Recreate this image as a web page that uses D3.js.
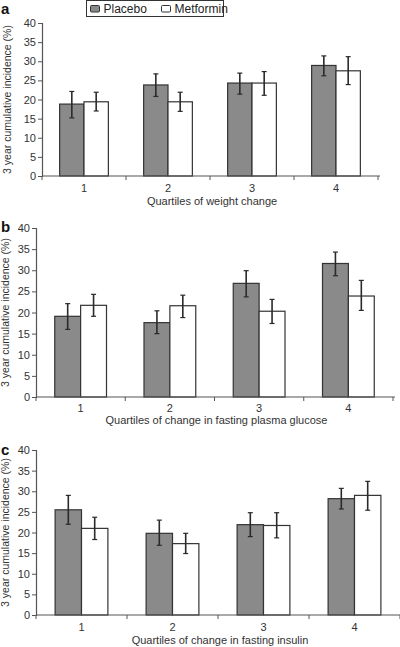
<!DOCTYPE html>
<html>
<head>
<meta charset="utf-8">
<script src="https://cdn.jsdelivr.net/npm/d3@7/dist/d3.min.js"></script>
<style>
  html, body { margin: 0; padding: 0; background: #fff; }
  svg { display: block; font-family: "Liberation Sans", Arial, sans-serif; }
</style>
</head>
<body>
<svg id="chart" width="400" height="647"></svg>
<script>
// ---- data ----
const quartiles = ["1", "2", "3", "4"];
const seriesNames = ["Placebo", "Metformin"];
const yTicks = [0, 5, 10, 15, 20, 25, 30, 35, 40];
const panelLabels = ["a", "b", "c"];
const xTitles = [
  "Quartiles of weight change",
  "Quartiles of change in fasting plasma glucose",
  "Quartiles of change in fasting insulin"
];
const yTitle = "3 year cumulative incidence (%)";

// panel a: weight change
const placeboA = [18.8, 23.8, 24.3, 28.9];
const placeboA_lo = [15.2, 20.8, 21.4, 26.2];
const placeboA_hi = [22.1, 26.7, 26.9, 31.4];
const metforminA = [19.4, 19.4, 24.3, 27.5];
const metforminA_lo = [17.0, 16.9, 21.1, 23.9];
const metforminA_hi = [21.9, 21.9, 27.3, 31.2];

// panel b: fasting plasma glucose
const placeboB = [19.1, 17.6, 26.9, 31.6];
const placeboB_lo = [16.0, 15.0, 23.7, 28.7];
const placeboB_hi = [22.1, 20.4, 29.9, 34.3];
const metforminB = [21.7, 21.6, 20.3, 23.9];
const metforminB_lo = [19.1, 18.8, 17.4, 20.5];
const metforminB_hi = [24.3, 24.1, 23.1, 27.6];

// panel c: fasting insulin
const placeboC = [25.5, 19.8, 21.9, 28.2];
const placeboC_lo = [22.0, 16.9, 19.0, 25.7];
const placeboC_hi = [29.0, 23.0, 24.8, 30.7];
const metforminC = [21.0, 17.3, 21.7, 29.0];
const metforminC_lo = [18.3, 14.9, 18.7, 25.4];
const metforminC_hi = [23.7, 19.8, 24.8, 32.4];

// ---- layout (positions only) ----
const panels = [
  { label: panelLabels[0], xTitle: xTitles[0],
    p: [placeboA, placeboA_lo, placeboA_hi], m: [metforminA, metforminA_lo, metforminA_hi],
    x0: 42, x1: 378, yBottom: 176, yTop: 23, labelY: 14, xTickY: 192, xTitleY: 205,
    yTitleX: 11, tickLabelX: 36 },
  { label: panelLabels[1], xTitle: xTitles[1],
    p: [placeboB, placeboB_lo, placeboB_hi], m: [metforminB, metforminB_lo, metforminB_hi],
    x0: 36, x1: 393, yBottom: 397, yTop: 228, labelY: 232, xTickY: 412, xTitleY: 424,
    yTitleX: 9, tickLabelX: 30 },
  { label: panelLabels[2], xTitle: xTitles[2],
    p: [placeboC, placeboC_lo, placeboC_hi], m: [metforminC, metforminC_lo, metforminC_hi],
    x0: 36, x1: 400, yBottom: 615, yTop: 450, labelY: 455, xTickY: 631, xTitleY: 644,
    yTitleX: 9, tickLabelX: 30 }
];

const svg = d3.select("#chart");
const axisColor = "#555";
const placeboFill = "#8a8a8a";

panels.forEach(pn => {
  const g = svg.append("g");
  const x = d3.scaleBand().domain(quartiles).range([pn.x0, pn.x1]).paddingInner(0.42).paddingOuter(0.21);
  const xs = d3.scaleBand().domain(seriesNames).range([0, x.bandwidth()]);
  const y = d3.scaleLinear().domain([0, 40]).range([pn.yBottom, pn.yTop]);

  // bars
  const rows = quartiles.map((q, i) => ({
    q,
    vals: [
      { s: seriesNames[0], v: pn.p[0][i], lo: pn.p[1][i], hi: pn.p[2][i] },
      { s: seriesNames[1], v: pn.m[0][i], lo: pn.m[1][i], hi: pn.m[2][i] }
    ]
  }));
  const grp = g.selectAll(".grp").data(rows).enter().append("g")
    .attr("transform", d => `translate(${x(d.q)},0)`);
  grp.selectAll("rect").data(d => d.vals).enter().append("rect")
    .attr("x", d => xs(d.s))
    .attr("width", xs.bandwidth())
    .attr("y", d => y(d.v))
    .attr("height", d => y(0) - y(d.v))
    .attr("fill", d => d.s === "Placebo" ? placeboFill : "#fff")
    .attr("stroke", "#333")
    .attr("stroke-width", 1.2);

  // error bars
  const eb = grp.selectAll(".eb").data(d => d.vals).enter().append("g")
    .attr("stroke", "#2a2a2a").attr("stroke-width", 1.6);
  eb.append("line")
    .attr("x1", d => xs(d.s) + xs.bandwidth() / 2).attr("x2", d => xs(d.s) + xs.bandwidth() / 2)
    .attr("y1", d => y(d.lo)).attr("y2", d => y(d.hi));
  eb.append("line")
    .attr("x1", d => xs(d.s) + xs.bandwidth() / 2 - 2.5).attr("x2", d => xs(d.s) + xs.bandwidth() / 2 + 2.5)
    .attr("y1", d => y(d.hi)).attr("y2", d => y(d.hi)).attr("stroke-width", 1.2);
  eb.append("line")
    .attr("x1", d => xs(d.s) + xs.bandwidth() / 2 - 2.5).attr("x2", d => xs(d.s) + xs.bandwidth() / 2 + 2.5)
    .attr("y1", d => y(d.lo)).attr("y2", d => y(d.lo)).attr("stroke-width", 1.2);

  // y axis
  const ya = g.append("g").attr("transform", `translate(${pn.x0},0)`)
    .call(d3.axisLeft(y).tickValues(yTicks).tickSize(4).tickPadding(2));
  ya.select(".domain").attr("stroke", axisColor).attr("stroke-width", 1.2);
  ya.selectAll(".tick line").attr("stroke", axisColor);
  ya.selectAll(".tick text").attr("font-size", 11).attr("fill", "#333")
    .attr("font-family", "'Liberation Sans', Arial, sans-serif")
    .attr("x", pn.tickLabelX - pn.x0);

  // x axis: line + boundary ticks
  g.append("line").attr("x1", pn.x0).attr("x2", pn.x1 + 2)
    .attr("y1", y(0)).attr("y2", y(0)).attr("stroke", axisColor).attr("stroke-width", 1.2);
  const bounds = d3.range(quartiles.length + 1).map(i => pn.x0 + i * x.step());
  g.selectAll(".xt").data(bounds).enter().append("line")
    .attr("x1", d => d).attr("x2", d => d)
    .attr("y1", y(0)).attr("y2", y(0) + 4)
    .attr("stroke", axisColor).attr("stroke-width", 1);
  g.selectAll(".xl").data(quartiles).enter().append("text")
    .attr("x", d => x(d) + x.bandwidth() / 2)
    .attr("y", pn.xTickY)
    .attr("text-anchor", "middle").attr("font-size", 11).attr("fill", "#333")
    .text(d => d);

  // x title
  g.append("text").attr("x", (pn.x0 + pn.x1) / 2 + 2).attr("y", pn.xTitleY)
    .attr("text-anchor", "middle").attr("font-size", 11).attr("fill", "#333")
    .text(pn.xTitle);

  // y title
  g.append("text")
    .attr("transform", `translate(${pn.yTitleX},${(pn.yBottom + pn.yTop) / 2}) rotate(-90)`)
    .attr("text-anchor", "middle").attr("font-size", 10.5).attr("fill", "#333")
    .text(yTitle);

  // panel label
  g.append("text").attr("x", 1).attr("y", pn.labelY)
    .attr("font-size", 15).attr("font-weight", "bold").attr("fill", "#111")
    .text(pn.label);
});

// legend
const lg = svg.append("g");
lg.append("rect").attr("x", 86.5).attr("y", 0.5).attr("width", 137).attr("height", 16)
  .attr("fill", "#fff").attr("stroke", "#333").attr("stroke-width", 1);
const legendX = [90.5, 161.5];
seriesNames.forEach((s, i) => {
  lg.append("rect").attr("x", legendX[i]).attr("y", 5.5).attr("width", 9).attr("height", 6.5)
    .attr("rx", 1)
    .attr("fill", i === 0 ? placeboFill : "#fff").attr("stroke", "#333").attr("stroke-width", 1);
  lg.append("text").attr("x", legendX[i] + 13).attr("y", 13)
    .attr("font-size", 12).attr("fill", "#222").text(s);
});
</script>
</body>
</html>
